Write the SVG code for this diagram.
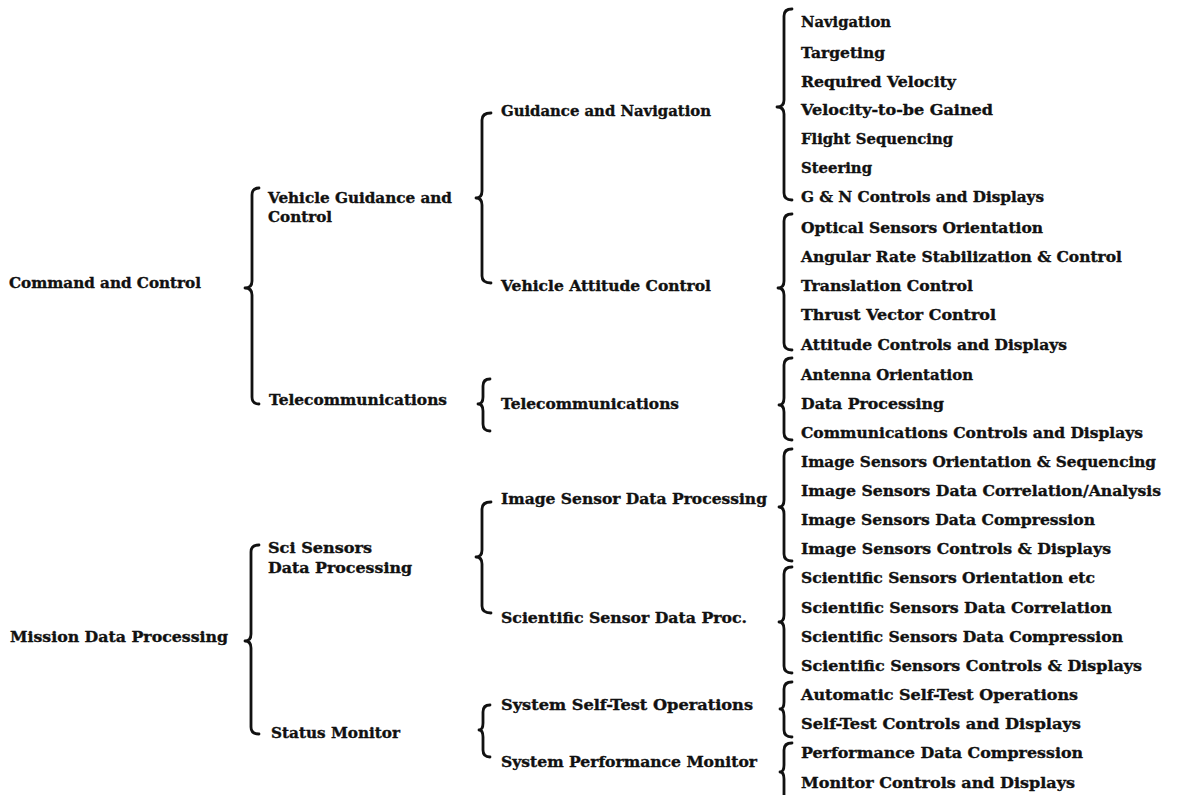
<svg xmlns="http://www.w3.org/2000/svg" width="1177" height="795" viewBox="0 0 1177 795">
  <style>
    .t { font-family: "DejaVu Serif", "Liberation Serif", serif; font-weight: bold; font-size: 14.5px; fill: #111; stroke: #111; stroke-width: 0.35px; }
    .b { fill: none; stroke: #111; stroke-width: 2.8; stroke-linecap: round; stroke-linejoin: round; }
  </style>
  <rect width="1177" height="795" fill="#fff"/>

  <!-- curly braces grouping each level -->
  <g id="connectors">
    <path class="b" d="M259,188 Q252,188 252,195 L252,281 Q252,288 245,288 Q252,288 252,295 L252,397 Q252,404 259,404"/>
    <path class="b" d="M259,545 Q251,545 251,552 L251,634 Q251,641 245,641 Q251,641 251,648 L251,727 Q251,734 259,734"/>

    <path class="b" d="M491,113 Q482,113 482,120 L482,191 Q482,198 476,198 Q482,198 482,205 L482,276 Q482,283 491,283"/>
    <path class="b" d="M490,379 Q483,379 483,386 L483,397 Q483,404 478,404 Q483,404 483,411 L483,424 Q483,431 490,431"/>
    <path class="b" d="M491,502 Q482,502 482,509 L482,550 Q482,557 476,557 Q482,557 482,564 L482,606 Q482,613 491,613"/>
    <path class="b" d="M490,705 Q483,705 483,712 L483,723 Q483,730 479,730 Q483,730 483,737 L483,750 Q483,757 490,757"/>

    <path class="b" d="M792,9 Q784,9 784,16 L784,100 Q784,107 777,107 Q784,107 784,114 L784,193 Q784,200 792,200"/>
    <path class="b" d="M792,214 Q784,214 784,221 L784,281 Q784,288 778,288 Q784,288 784,295 L784,343 Q784,350 792,350"/>
    <path class="b" d="M792,358 Q784,358 784,365 L784,398 Q784,405 779,405 Q784,405 784,412 L784,433 Q784,440 792,440"/>
    <path class="b" d="M792,449 Q784,449 784,456 L784,500 Q784,507 779,507 Q784,507 784,514 L784,554 Q784,561 792,561"/>
    <path class="b" d="M792,567 Q784,567 784,574 L784,615 Q784,622 779,622 Q784,622 784,629 L784,666 Q784,673 792,673"/>
    <path class="b" d="M792,682 Q784,682 784,689 L784,702 Q784,709 780,709 Q784,709 784,716 L784,730 Q784,737 792,737"/>
    <path class="b" d="M792,743 Q784,743 784,750 L784,765 Q784,772 780,772 Q784,772 784,779 L784,800"/>
  </g>

  <!-- level 1 -->
  <g id="command-and-control"><text class="t" x="9" y="288" textLength="192" lengthAdjust="spacingAndGlyphs">Command and Control</text></g>
  <g id="mission-data-processing"><text class="t" x="10" y="642" textLength="218" lengthAdjust="spacingAndGlyphs">Mission Data Processing</text></g>

  <!-- level 2 -->
  <g id="vehicle-guidance-and-control">
    <text class="t" x="268" y="203" textLength="184" lengthAdjust="spacingAndGlyphs">Vehicle Guidance and</text>
    <text class="t" x="268" y="222" textLength="64" lengthAdjust="spacingAndGlyphs">Control</text>
  </g>
  <g id="telecommunications-1"><text class="t" x="269" y="405" textLength="178" lengthAdjust="spacingAndGlyphs">Telecommunications</text></g>
  <g id="sci-sensors-data-processing">
    <text class="t" x="268" y="553" textLength="104" lengthAdjust="spacingAndGlyphs">Sci Sensors</text>
    <text class="t" x="268" y="573" textLength="144" lengthAdjust="spacingAndGlyphs">Data Processing</text>
  </g>
  <g id="status-monitor"><text class="t" x="271" y="738" textLength="129" lengthAdjust="spacingAndGlyphs">Status Monitor</text></g>

  <!-- level 3 -->
  <g id="guidance-and-navigation"><text class="t" x="501" y="116" textLength="210" lengthAdjust="spacingAndGlyphs">Guidance and Navigation</text></g>
  <g id="vehicle-attitude-control"><text class="t" x="501" y="291" textLength="210" lengthAdjust="spacingAndGlyphs">Vehicle Attitude Control</text></g>
  <g id="telecommunications-2"><text class="t" x="501" y="409" textLength="178" lengthAdjust="spacingAndGlyphs">Telecommunications</text></g>
  <g id="image-sensor-data-processing"><text class="t" x="501" y="504" textLength="266" lengthAdjust="spacingAndGlyphs">Image Sensor Data Processing</text></g>
  <g id="scientific-sensor-data-proc"><text class="t" x="501" y="623" textLength="246" lengthAdjust="spacingAndGlyphs">Scientific Sensor Data Proc.</text></g>
  <g id="system-self-test-operations"><text class="t" x="501" y="710" textLength="252" lengthAdjust="spacingAndGlyphs">System Self-Test Operations</text></g>
  <g id="system-performance-monitor"><text class="t" x="501" y="767" textLength="256" lengthAdjust="spacingAndGlyphs">System Performance Monitor</text></g>

  <!-- level 4 -->
  <g id="navigation"><text class="t" x="801" y="27" textLength="90" lengthAdjust="spacingAndGlyphs">Navigation</text></g>
  <g id="targeting"><text class="t" x="801" y="58" textLength="84" lengthAdjust="spacingAndGlyphs">Targeting</text></g>
  <g id="required-velocity"><text class="t" x="801" y="87" textLength="155" lengthAdjust="spacingAndGlyphs">Required Velocity</text></g>
  <g id="velocity-to-be-gained"><text class="t" x="801" y="115" textLength="192" lengthAdjust="spacingAndGlyphs">Velocity-to-be Gained</text></g>
  <g id="flight-sequencing"><text class="t" x="801" y="144" textLength="152" lengthAdjust="spacingAndGlyphs">Flight Sequencing</text></g>
  <g id="steering"><text class="t" x="801" y="173" textLength="71" lengthAdjust="spacingAndGlyphs">Steering</text></g>
  <g id="gn-controls-and-displays"><text class="t" x="801" y="202" textLength="243" lengthAdjust="spacingAndGlyphs">G &amp; N Controls and Displays</text></g>

  <g id="optical-sensors-orientation"><text class="t" x="801" y="233" textLength="242" lengthAdjust="spacingAndGlyphs">Optical Sensors Orientation</text></g>
  <g id="angular-rate-stabilization"><text class="t" x="801" y="262" textLength="321" lengthAdjust="spacingAndGlyphs">Angular Rate Stabilization &amp; Control</text></g>
  <g id="translation-control"><text class="t" x="801" y="291" textLength="172" lengthAdjust="spacingAndGlyphs">Translation Control</text></g>
  <g id="thrust-vector-control"><text class="t" x="801" y="320" textLength="195" lengthAdjust="spacingAndGlyphs">Thrust Vector Control</text></g>
  <g id="attitude-controls-and-displays"><text class="t" x="801" y="350" textLength="266" lengthAdjust="spacingAndGlyphs">Attitude Controls and Displays</text></g>

  <g id="antenna-orientation"><text class="t" x="801" y="380" textLength="172" lengthAdjust="spacingAndGlyphs">Antenna Orientation</text></g>
  <g id="data-processing"><text class="t" x="801" y="409" textLength="143" lengthAdjust="spacingAndGlyphs">Data Processing</text></g>
  <g id="communications-controls"><text class="t" x="801" y="438" textLength="342" lengthAdjust="spacingAndGlyphs">Communications Controls and Displays</text></g>

  <g id="image-orientation"><text class="t" x="801" y="467" textLength="355" lengthAdjust="spacingAndGlyphs">Image Sensors Orientation &amp; Sequencing</text></g>
  <g id="image-correlation"><text class="t" x="801" y="496" textLength="360" lengthAdjust="spacingAndGlyphs">Image Sensors Data Correlation/Analysis</text></g>
  <g id="image-compression"><text class="t" x="801" y="525" textLength="294" lengthAdjust="spacingAndGlyphs">Image Sensors Data Compression</text></g>
  <g id="image-controls"><text class="t" x="801" y="554" textLength="310" lengthAdjust="spacingAndGlyphs">Image Sensors Controls &amp; Displays</text></g>

  <g id="scientific-orientation"><text class="t" x="801" y="583" textLength="294" lengthAdjust="spacingAndGlyphs">Scientific Sensors Orientation etc</text></g>
  <g id="scientific-correlation"><text class="t" x="801" y="613" textLength="311" lengthAdjust="spacingAndGlyphs">Scientific Sensors Data Correlation</text></g>
  <g id="scientific-compression"><text class="t" x="801" y="642" textLength="322" lengthAdjust="spacingAndGlyphs">Scientific Sensors Data Compression</text></g>
  <g id="scientific-controls"><text class="t" x="801" y="671" textLength="341" lengthAdjust="spacingAndGlyphs">Scientific Sensors Controls &amp; Displays</text></g>

  <g id="automatic-self-test"><text class="t" x="801" y="700" textLength="277" lengthAdjust="spacingAndGlyphs">Automatic Self-Test Operations</text></g>
  <g id="self-test-controls"><text class="t" x="801" y="729" textLength="280" lengthAdjust="spacingAndGlyphs">Self-Test Controls and Displays</text></g>

  <g id="performance-data-compression"><text class="t" x="801" y="758" textLength="282" lengthAdjust="spacingAndGlyphs">Performance Data Compression</text></g>
  <g id="monitor-controls"><text class="t" x="801" y="788" textLength="274" lengthAdjust="spacingAndGlyphs">Monitor Controls and Displays</text></g>
</svg>
